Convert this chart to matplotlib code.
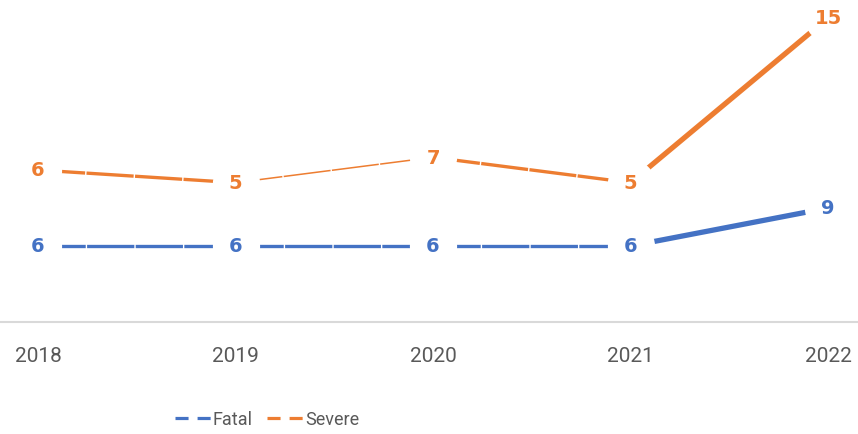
import numpy as np
import matplotlib.pyplot as plt
from matplotlib.lines import Line2D

years = ['2018', '2019', '2020', '2021', '2022']
fatal = [6, 6, 6, 6, 9]
severe = [6, 5, 7, 5, 15]

blue = '#4472C4'
orange = '#ED7D31'
grey = '#595959'

plt.rcParams['lines.scale_dashes'] = False
plt.rcParams['font.family'] = ['Roboto', 'DejaVu Sans']

x = np.arange(len(years))
fatal_top = np.array(fatal)
severe_top = fatal_top + np.array(severe)   # stacked line chart

fig = plt.figure(figsize=(8.58, 4.35), dpi=100)
ax = fig.add_axes([0, 112 / 435, 1, 323 / 435])
ax.set_xlim(-38 / 197.5, 4 + 30 / 197.5)
ax.set_ylim(0, 25.5)


def draw_series(top, values, color, thin=()):
    n = len(top)
    for i in range(n - 1):
        xs = x[i:i + 2]
        ys = top[i:i + 2]
        if i == n - 2:
            ax.plot(xs, ys, color=color, lw=3.8, solid_capstyle='round', zorder=2)
        else:
            lw = 1.1 if i in thin else 2.4
            ax.plot(xs, ys, color=color, lw=lw, dashes=(34, 1.0), zorder=2)
    # white blobs behind the labels cut the line like in the original
    ax.plot(x, top, ls='none', marker='o', ms=34, mfc='white', mec='none',
            zorder=3, clip_on=False)
    for xi, yi, v in zip(x, top, values):
        ax.text(xi, yi, str(v), color=color, ha='center', va='center',
                fontsize=14, fontweight='bold', family='DejaVu Sans',
                zorder=4, clip_on=False)


draw_series(fatal_top, fatal, blue)
draw_series(severe_top, severe, orange, thin=(1,))

for s in ['top', 'left', 'right']:
    ax.spines[s].set_visible(False)
ax.spines['bottom'].set_color('#D9D9D9')
ax.spines['bottom'].set_linewidth(1.5)
ax.set_yticks([])
ax.set_xticks(x)
ax.set_xticklabels(years)
ax.tick_params(axis='x', length=0, pad=17, labelsize=15, labelcolor=grey)

handles = [Line2D([], [], color=blue, lw=2.3, dashes=(9.4, 6.5)),
           Line2D([], [], color=orange, lw=2.3, dashes=(9.4, 6.5))]
fig.legend(handles, ['Fatal', 'Severe'], loc='center', bbox_to_anchor=(0.311, 0.034),
           ncol=2, frameon=False, fontsize=13, labelcolor=grey,
           handlelength=2.0, handletextpad=0.1, columnspacing=0.8)

fig.savefig('out.png', dpi=100)
